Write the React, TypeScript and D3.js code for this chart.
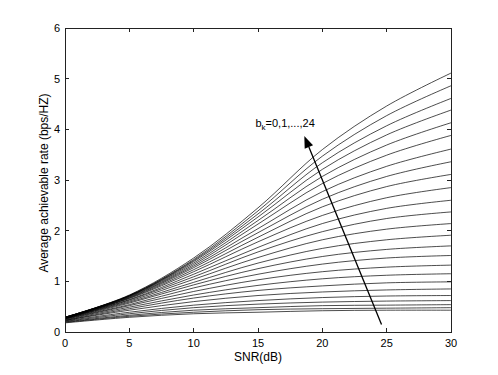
import React, { useEffect, useRef } from 'react'
import { select, scaleLinear, line, curveCatmullRom } from 'd3'

// SNR grid (dB) the rates were read at
const SNR_DB = [0, 5, 10, 15, 20, 25, 30]

// average achievable rate (bps/Hz), one row per b_k = 0, 1, ..., 24
const RATE_BK = [
  [0.18, 0.29, 0.36, 0.39, 0.42, 0.43, 0.43],
  [0.19, 0.31, 0.39, 0.44, 0.46, 0.47, 0.48],
  [0.20, 0.33, 0.43, 0.48, 0.52, 0.53, 0.54],
  [0.21, 0.36, 0.48, 0.55, 0.59, 0.61, 0.62],
  [0.22, 0.39, 0.53, 0.62, 0.68, 0.71, 0.72],
  [0.23, 0.43, 0.60, 0.72, 0.79, 0.83, 0.85],
  [0.23, 0.46, 0.67, 0.82, 0.91, 0.97, 0.99],
  [0.24, 0.49, 0.73, 0.92, 1.05, 1.12, 1.15],
  [0.25, 0.52, 0.80, 1.03, 1.19, 1.28, 1.32],
  [0.26, 0.54, 0.87, 1.14, 1.34, 1.46, 1.51],
  [0.26, 0.57, 0.93, 1.25, 1.49, 1.63, 1.70],
  [0.27, 0.59, 0.98, 1.36, 1.65, 1.82, 1.91],
  [0.27, 0.61, 1.04, 1.47, 1.82, 2.03, 2.14],
  [0.27, 0.63, 1.09, 1.58, 1.98, 2.24, 2.37],
  [0.28, 0.64, 1.14, 1.67, 2.14, 2.44, 2.60],
  [0.28, 0.66, 1.19, 1.78, 2.30, 2.65, 2.85],
  [0.28, 0.67, 1.23, 1.87, 2.47, 2.87, 3.11],
  [0.28, 0.68, 1.27, 1.96, 2.62, 3.07, 3.36],
  [0.28, 0.69, 1.30, 2.04, 2.77, 3.27, 3.61],
  [0.29, 0.70, 1.33, 2.13, 2.93, 3.49, 3.88],
  [0.29, 0.71, 1.36, 2.20, 3.07, 3.69, 4.13],
  [0.29, 0.71, 1.39, 2.27, 3.21, 3.89, 4.38],
  [0.29, 0.72, 1.41, 2.33, 3.34, 4.07, 4.61],
  [0.29, 0.72, 1.43, 2.39, 3.47, 4.27, 4.86],
  [0.29, 0.73, 1.46, 2.45, 3.60, 4.46, 5.11],
]

const X_TICKS = [0, 5, 10, 15, 20, 25, 30]
const Y_TICKS = [0, 1, 2, 3, 4, 5, 6]
const X_LABEL = 'SNR(dB)'
const Y_LABEL = 'Average achievable rate (bps/HZ)'

// annotation (data units)
const ARROW_FROM = [24.6, 0.15]
const ARROW_TO = [18.6, 3.87]
const NOTE_AT = [14.8, 4.05]

const App = () => {
  const svgRef = useRef<SVGSVGElement>(null)

  const width = 498
  const height = 375
  const margin = { top: 28, right: 47, bottom: 43, left: 65 }

  useEffect(() => {
    const svg = select(svgRef.current)
    svg.selectAll('*').remove()

    const x = scaleLinear().domain([0, 30]).range([margin.left, width - margin.right])
    const y = scaleLinear().domain([0, 6]).range([height - margin.bottom, margin.top])
    const font = 'Liberation Sans, Arial, Helvetica, sans-serif'

    svg.append('rect').attr('width', width).attr('height', height).attr('fill', '#fff')

    // curves
    const path = line<number>()
      .x((d, i) => x(SNR_DB[i]))
      .y(d => y(d))
      .curve(curveCatmullRom.alpha(0.5))

    svg.append('g')
      .selectAll('path')
      .data(RATE_BK)
      .enter().append('path')
      .attr('d', d => path(d))
      .attr('fill', 'none')
      .attr('stroke', '#000')
      .attr('stroke-width', 0.7)

    // box + inward ticks
    const x0 = x(0), x1 = x(30), y0 = y(0), y1 = y(6)
    const axes = svg.append('g').attr('stroke', '#222').attr('stroke-width', 1).attr('shape-rendering', 'crispEdges')
    axes.append('rect')
      .attr('x', x0).attr('y', y1).attr('width', x1 - x0).attr('height', y0 - y1)
      .attr('fill', 'none')
    const tl = 4
    X_TICKS.forEach(t => {
      axes.append('line').attr('x1', x(t)).attr('x2', x(t)).attr('y1', y0).attr('y2', y0 - tl)
      axes.append('line').attr('x1', x(t)).attr('x2', x(t)).attr('y1', y1).attr('y2', y1 + tl)
    })
    Y_TICKS.forEach(t => {
      axes.append('line').attr('x1', x0).attr('x2', x0 + tl).attr('y1', y(t)).attr('y2', y(t))
      axes.append('line').attr('x1', x1).attr('x2', x1 - tl).attr('y1', y(t)).attr('y2', y(t))
    })

    // tick labels
    svg.append('g').selectAll('text')
      .data(X_TICKS)
      .enter().append('text')
      .attr('x', d => x(d))
      .attr('y', y0 + 15)
      .attr('text-anchor', 'middle')
      .attr('font-family', font)
      .attr('font-size', 11)
      .text(d => d)

    svg.append('g').selectAll('text')
      .data(Y_TICKS)
      .enter().append('text')
      .attr('x', x0 - 5)
      .attr('y', d => y(d) + 4)
      .attr('text-anchor', 'end')
      .attr('font-family', font)
      .attr('font-size', 11)
      .text(d => d)

    // axis labels
    svg.append('text')
      .attr('x', (x0 + x1) / 2)
      .attr('y', 361)
      .attr('text-anchor', 'middle')
      .attr('font-family', font)
      .attr('font-size', 12)
      .text(X_LABEL)

    svg.append('text')
      .attr('transform', `translate(47.5, ${(y0 + y1) / 2 + 3}) rotate(-90)`)
      .attr('text-anchor', 'middle')
      .attr('font-family', font)
      .attr('font-size', 12)
      .text(Y_LABEL)

    // arrow
    const ax = x(ARROW_FROM[0]), ay = y(ARROW_FROM[1])
    const bx = x(ARROW_TO[0]), by = y(ARROW_TO[1])
    const len = Math.hypot(bx - ax, by - ay)
    const ux = (bx - ax) / len, uy = (by - ay) / len
    const head = 12, half = 4.5
    const hx = bx - ux * head, hy = by - uy * head
    svg.append('line')
      .attr('x1', ax).attr('y1', ay).attr('x2', hx).attr('y2', hy)
      .attr('stroke', '#000').attr('stroke-width', 1.3)
    svg.append('path')
      .attr('d', `M${bx},${by}L${hx - uy * half},${hy + ux * half}L${hx + uy * half},${hy - ux * half}Z`)
      .attr('fill', '#000')

    // b_k note
    const note = svg.append('text')
      .attr('x', x(NOTE_AT[0]))
      .attr('y', y(NOTE_AT[1]))
      .attr('font-family', font)
      .attr('font-size', 11)
    note.append('tspan').text('b')
    note.append('tspan').attr('font-size', 8).attr('dy', 3).text('k')
    note.append('tspan').attr('dy', -3).text('=0,1,...,24')
  }, [])

  return (
    <svg ref={svgRef} width={width} height={height}
      style={{ position: 'absolute', left: 0, top: 0, display: 'block' }} />
  )
}

export default App
